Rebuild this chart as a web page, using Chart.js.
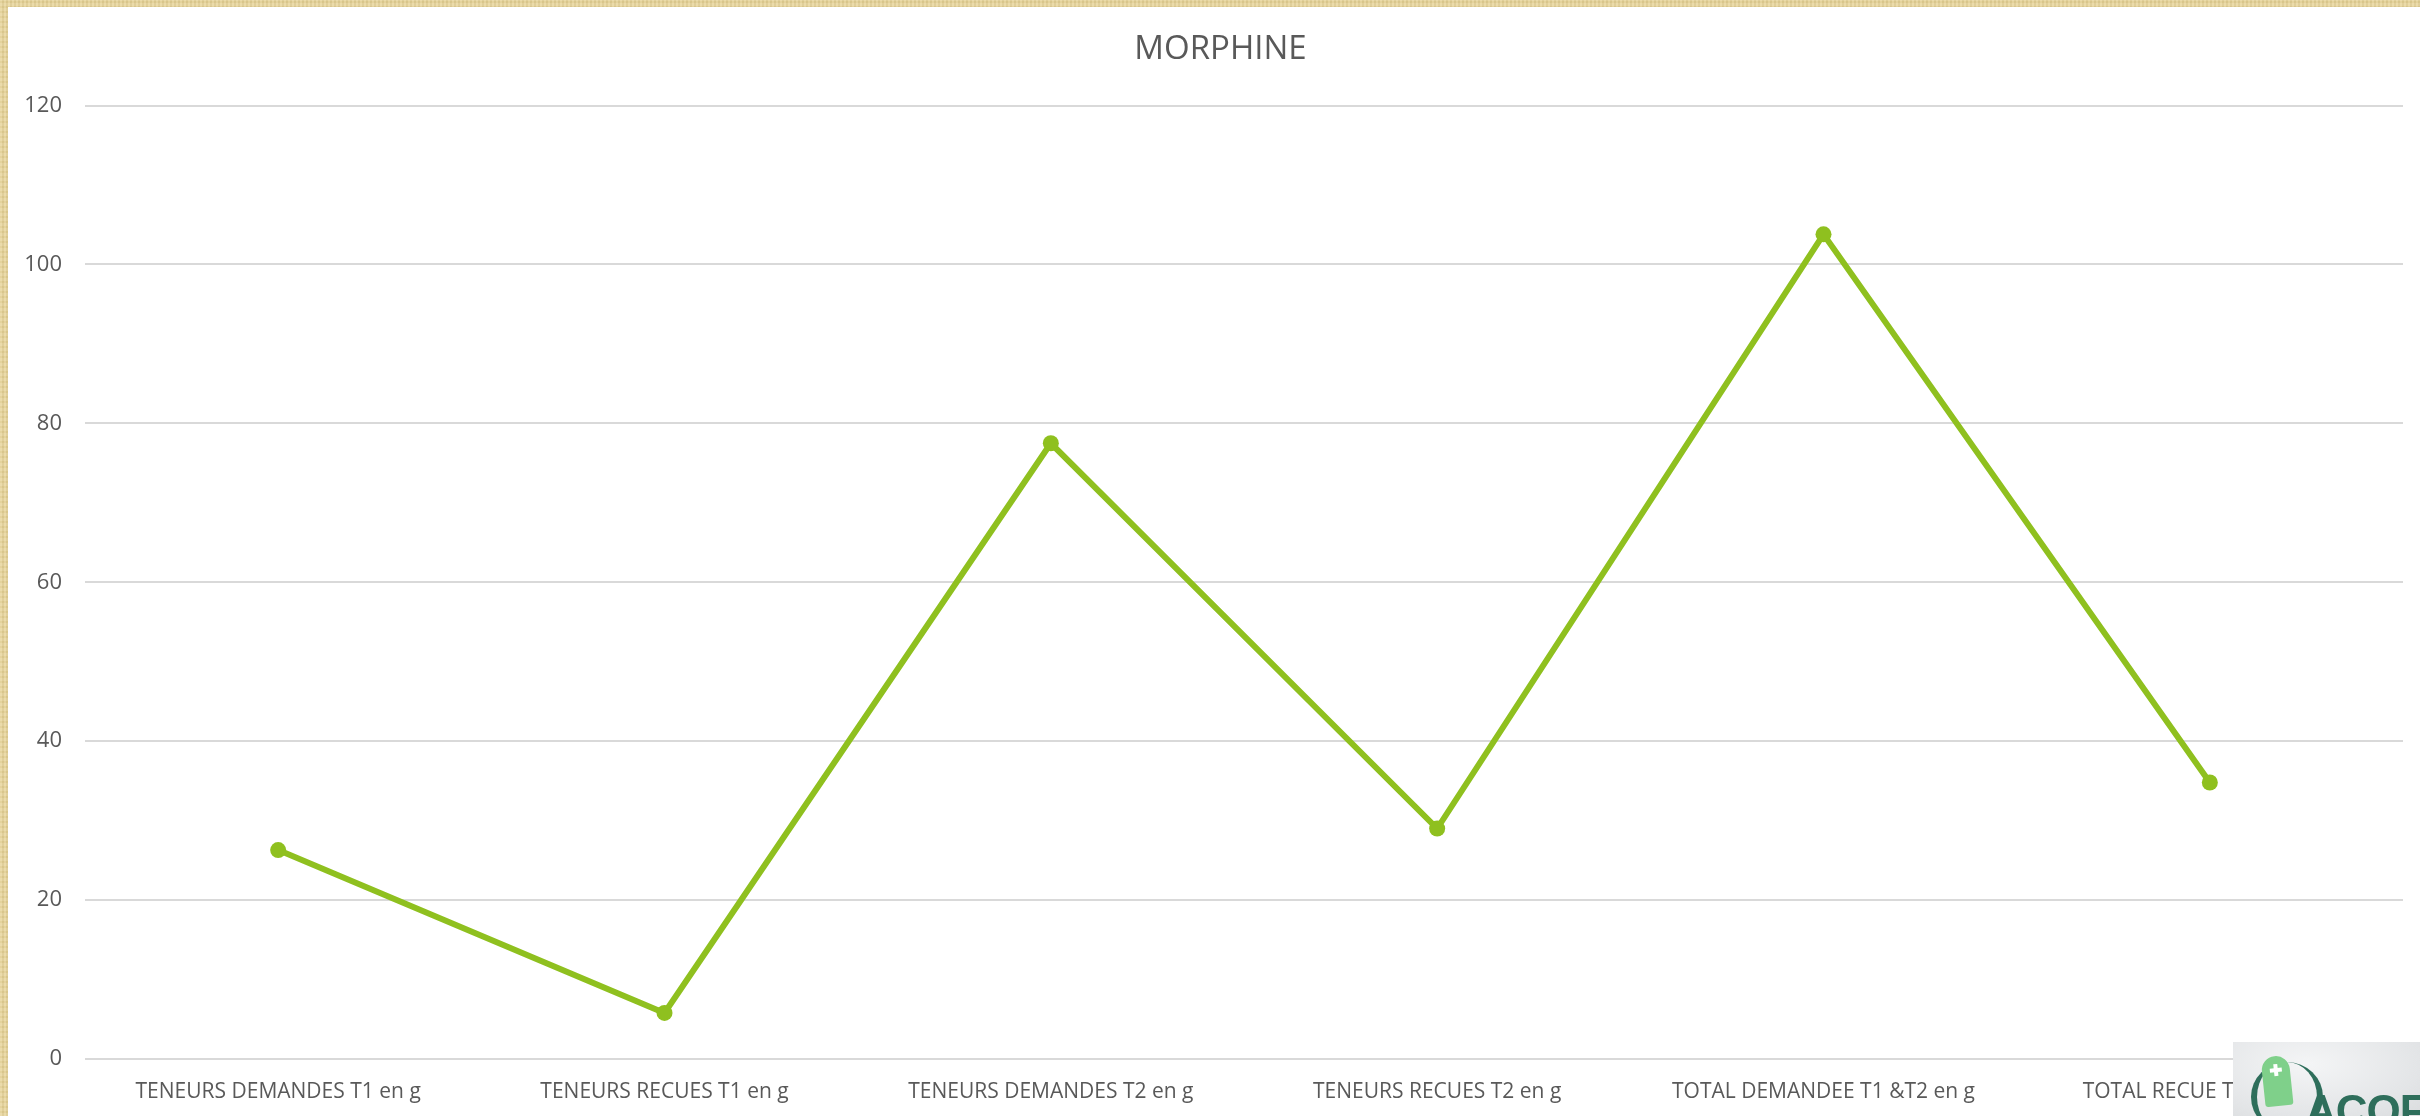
<!DOCTYPE html>
<html>
<head>
<meta charset="utf-8">
<script src="https://cdn.jsdelivr.net/npm/chart.js@4"></script>
<style>
  html, body { margin: 0; padding: 0; }
  body { width: 2420px; height: 1116px; overflow: hidden; position: relative;
    background: #e7d498;
    background-image: repeating-linear-gradient(90deg, rgba(255,255,255,0.10) 0 2px, rgba(0,0,0,0.04) 2px 4px),
                      repeating-linear-gradient(0deg, rgba(255,255,255,0.08) 0 3px, rgba(120,90,20,0.05) 3px 5px);
  }
  #wrap { position: absolute; left: 8px; top: 7px; width: 2412px; height: 1109px; background: #fff; }
  #logo { position: absolute; left: 2233px; top: 1042px; width: 187px; height: 74px; overflow: hidden;
    background: radial-gradient(ellipse at 40% 30%, #f4f5f6 0%, #e3e5e7 70%, #dadcde 100%); }
  #logo .flag { position: absolute; left: 30px; top: 14px; width: 28px; height: 50px; background: #7fd08a;
    border-radius: 14px 14px 3px 3px; transform: rotate(-6deg); }
  #logo .cross { position: absolute; left: 8px; top: 8px; width: 12px; height: 12px; }
  #logo .cross:before { content: ""; position: absolute; left: 4px; top: 0; width: 4px; height: 12px; background: #fff; }
  #logo .cross:after { content: ""; position: absolute; left: 0; top: 4px; width: 12px; height: 4px; background: #fff; }
  #logo .arc { position: absolute; left: 18px; top: 20px; width: 60px; height: 70px; border-radius: 50%;
    border-left: 6px solid #2e6e5b; border-right: 6px solid #2e6e5b; border-top: 0; border-bottom: 0; }
  #logo .txt { position: absolute; left: 72px; top: 44px; font: bold 44px "Liberation Sans", sans-serif; color: #2e6e5b; letter-spacing: -1px; }
</style>
</head>
<body>
<div id="wrap"><canvas id="c" width="2412" height="1109"></canvas></div>
<div id="logo"><div class="arc"></div><div class="flag"><div class="cross"></div></div><div class="txt">ACOF</div></div>
<script>
const chartTitle = "MORPHINE";
const categories = [
  "TENEURS DEMANDES T1 en g",
  "TENEURS RECUES T1 en g",
  "TENEURS DEMANDES T2 en g",
  "TENEURS RECUES T2 en g",
  "TOTAL DEMANDEE T1 &T2 en g",
  "TOTAL RECUE T1 &T2 en g"
];
const values = [26.3, 5.8, 77.5, 29.0, 103.8, 34.8];
const yMin = 0, yMax = 120, yStep = 20;

const textColor = "#595959";
const fontFamily = "'Open Sans', 'Liberation Sans', sans-serif";
const lineColor = "#8fc01f";

const titleShift = {
  id: "titleShift",
  afterLayout(chart) {
    const tb = chart.titleBlock;
    if (tb) { tb.left += 15; tb.right += 15; }
  }
};

new Chart(document.getElementById("c"), {
  type: "line",
  data: {
    labels: categories,
    datasets: [{
      data: values,
      borderColor: lineColor,
      backgroundColor: lineColor,
      borderWidth: 6,
      pointRadius: 8,
      pointHoverRadius: 8,
      pointBackgroundColor: lineColor,
      pointBorderColor: lineColor,
      pointBorderWidth: 0,
      tension: 0,
      fill: false
    }]
  },
  plugins: [titleShift],
  options: {
    responsive: false,
    animation: false,
    devicePixelRatio: 1,
    layout: { padding: { left: 0, right: 17, top: 0, bottom: 0 } },
    plugins: {
      legend: { display: false },
      tooltip: { enabled: false },
      title: {
        display: true,
        text: chartTitle,
        color: textColor,
        font: { family: fontFamily, size: 33, weight: "normal", lineHeight: 1.2 },
        padding: { top: 23, bottom: 36 }
      }
    },
    scales: {
      x: {
        offset: true,
        grid: { display: false, drawTicks: false },
        border: { display: false },
        ticks: {
          color: textColor,
          font: { family: fontFamily, size: 21 },
          padding: 20,
          maxRotation: 0,
          autoSkip: false
        },
        afterFit(scale) { scale.height = 57; }
      },
      y: {
        min: yMin,
        max: yMax,
        ticks: {
          stepSize: yStep,
          color: textColor,
          font: { family: fontFamily, size: 22 },
          padding: 23
        },
        grid: { color: "#d9d9d9", lineWidth: 2, drawTicks: false },
        border: { display: false },
        afterFit(scale) { scale.width = 77; }
      }
    }
  }
});
</script>
</body>
</html>
